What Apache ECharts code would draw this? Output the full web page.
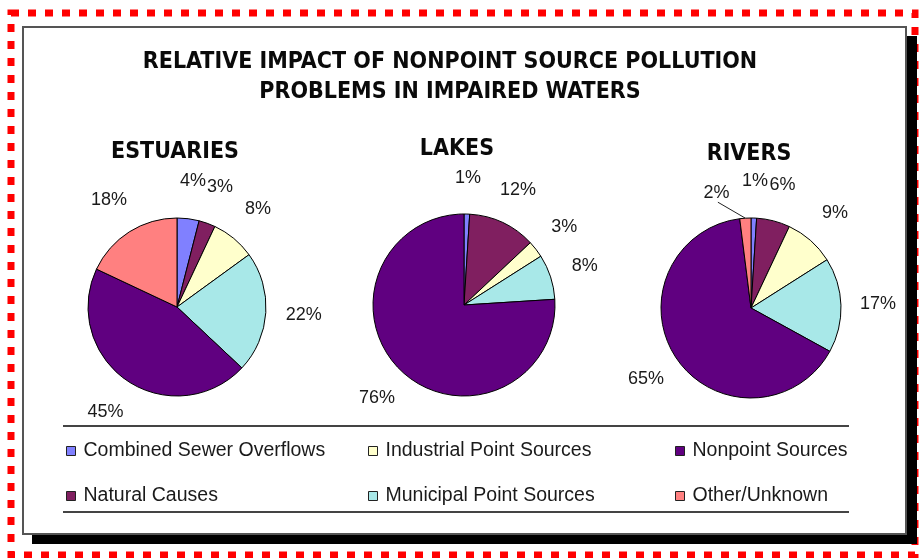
<!DOCTYPE html>
<html>
<head>
<meta charset="utf-8">
<script src="https://cdn.jsdelivr.net/npm/echarts@6/dist/echarts.min.js"></script>
<style>
html,body{margin:0;padding:0;background:#fff;}
#chart{width:919px;height:558px;}
</style>
</head>
<body>
<div id="chart"></div>
<script>
// ---- data ----
var categories = ['Combined Sewer Overflows','Natural Causes','Industrial Point Sources','Municipal Point Sources','Nonpoint Sources','Other/Unknown'];
var colors = ['#8080FF','#801F60','#FFFFCC','#A8E8E8','#600080','#FF8080'];
var estuaries = [4, 3, 8, 22, 45, 18];
var lakes = [1, 12, 3, 8, 76, 0];
var rivers = [1, 6, 9, 17, 65, 2];
var panelTitles = ['ESTUARIES','LAKES','RIVERS'];
var mainTitle = 'RELATIVE IMPACT OF NONPOINT SOURCE POLLUTION\nPROBLEMS IN IMPAIRED WATERS';
var legendCols = [
  ['Combined Sewer Overflows','Natural Causes'],
  ['Industrial Point Sources','Municipal Point Sources'],
  ['Nonpoint Sources','Other/Unknown']
];

// ---- layout ----
var panels = [
  {vals: estuaries, center: [177, 307], r: 89, titleX: 175, titleY: 137},
  {vals: lakes, center: [464, 305], r: 91, titleX: 457, titleY: 134},
  {vals: rivers, center: [751, 308], r: 90, titleX: 749, titleY: 139}
];
var legendX = [66, 368, 675];
var textFont = "'Liberation Sans', Arial, sans-serif";
var titleFont = "'Liberation Sans Narrow', 'Arial Narrow', 'DejaVu Sans Condensed', sans-serif";

function buildData(vals, ghost, pi) {
  var out = [];
  vals.forEach(function (v, i) {
    if (!v) return;
    var item = {name: categories[i], value: v, itemStyle: {color: ghost ? 'rgba(0,0,0,0)' : colors[i]}};
    // rivers' tiny "Other" slice gets a leader-line label instead
    if (pi === 2 && i === 5) {
      if (ghost) item.label = {show: false};
      else {
        item.label = {show: true, position: 'outside', formatter: '{c}%', color: '#1a1a1a', fontSize: 18, fontFamily: textFont};
        item.labelLine = {show: true, length: 12, length2: 0, lineStyle: {color: '#222', width: 1}};
      }
    }
    out.push(item);
  });
  return out;
}

function riversLabelLayout(params) {
  var dx = -10, dy = -13;
  var res = {dx: dx, dy: dy};
  var pts = params.labelLinePoints;
  if (pts && pts.length) {
    var r = params.labelRect;
    var end = [r.x + r.width * 0.55 + dx, r.y + r.height + dy];
    res.labelLinePoints = [pts[0], end, end];
  }
  return res;
}

var series = [];
panels.forEach(function (p, pi) {
  series.push({
    type: 'pie', center: p.center, radius: p.r, startAngle: 90, clockwise: true,
    avoidLabelOverlap: false, silent: true,
    itemStyle: {borderColor: '#000', borderWidth: 1},
    label: {show: false}, labelLine: {show: false},
    emphasis: {disabled: true},
    labelLayout: pi === 2 ? riversLabelLayout : undefined,
    data: buildData(p.vals, false, pi)
  });
});
panels.forEach(function (p, pi) {
  series.push({
    type: 'pie', center: p.center, radius: [111, 137], startAngle: 90, clockwise: true,
    avoidLabelOverlap: false, silent: true, legendHoverLink: false,
    itemStyle: {borderWidth: 0},
    label: {show: true, position: 'inside', formatter: '{c}%', color: '#1a1a1a', fontSize: 18, fontFamily: textFont},
    labelLine: {show: false},
    emphasis: {disabled: true},
    data: buildData(p.vals, true, pi)
  });
});

var titleStyle = {fontFamily: titleFont, fontWeight: 'bold', fontSize: 23, lineHeight: 30, color: '#0a0a0a'};
var titles = [{text: mainTitle, left: 450, top: 47, textAlign: 'center', padding: 0, textStyle: titleStyle}];
panels.forEach(function (p, pi) {
  titles.push({text: panelTitles[pi], left: p.titleX, top: p.titleY, textAlign: 'center', padding: 0, textStyle: titleStyle});
});

var legends = legendCols.map(function (col, ci) {
  return {
    data: col, orient: 'vertical', left: legendX[ci], top: 441, padding: 0,
    icon: 'rect', itemWidth: 9, itemHeight: 9, itemGap: 25,
    selectedMode: false,
    itemStyle: {borderColor: '#222', borderWidth: 1},
    textStyle: {fontFamily: textFont, fontSize: 19.5, color: '#1a1a1a', padding: [0, 0, 0, 3]}
  };
});

var option = {
  backgroundColor: '#fff',
  animation: false,
  graphic: [
    {type: 'rect', z: -10, shape: {x: 11, y: 13, width: 904, height: 542},
      style: {fill: 'none', stroke: '#FF0000', lineWidth: 7, lineDash: [8, 9]}},
    {type: 'rect', z: -9, shape: {x: 32, y: 36, width: 885, height: 508}, style: {fill: '#000'}},
    {type: 'rect', z: -8, shape: {x: 23, y: 27, width: 883, height: 507},
      style: {fill: '#fff', stroke: '#555', lineWidth: 2}},
    {type: 'line', z: -7, shape: {x1: 63, y1: 426, x2: 849, y2: 426}, style: {stroke: '#444', lineWidth: 2}},
    {type: 'line', z: -7, shape: {x1: 63, y1: 512, x2: 849, y2: 512}, style: {stroke: '#444', lineWidth: 2}}
  ],
  title: titles,
  legend: legends,
  series: series
};

var chart = echarts.init(document.getElementById('chart'));
chart.setOption(option);
</script>
</body>
</html>
